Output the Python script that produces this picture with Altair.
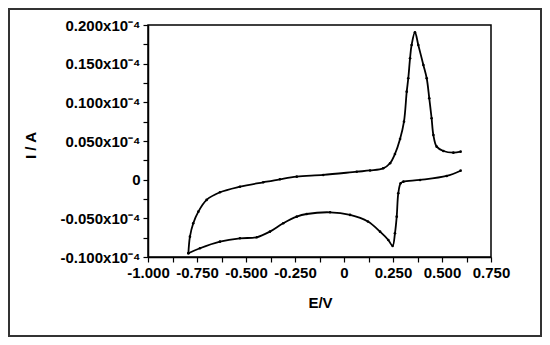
import altair as alt
import pandas as pd

# Forward (anodic) scan, E in V, I in units of 1e-4 A
fwd_E = [-0.794, -0.786, -0.769, -0.743, -0.701, -0.633, -0.531, -0.412, -0.327, -0.241,
         -0.106, 0.065, 0.133, 0.200, 0.235, 0.260, 0.286, 0.306, 0.320, 0.328,
         0.337, 0.345, 0.362, 0.379, 0.405, 0.422, 0.435, 0.447, 0.456, 0.473,
         0.507, 0.558, 0.595]
fwd_I = [-0.0952, -0.0737, -0.0564, -0.0414, -0.0262, -0.0163, -0.0091, -0.0034, 0.0005, 0.0039,
         0.0061, 0.0103, 0.0119, 0.0147, 0.0212, 0.0332, 0.0526, 0.0750, 0.1138, 0.1311,
         0.1570, 0.1742, 0.1906, 0.1742, 0.1483, 0.1311, 0.1053, 0.0794, 0.0578, 0.0427,
         0.0371, 0.0349, 0.0362]

# Reverse (cathodic) scan
rev_E = [0.595, 0.524, 0.388, 0.303, 0.289, 0.277, 0.269, 0.260, 0.248, 0.226,
         0.184, 0.122, 0.031, -0.071, -0.190, -0.241, -0.310, -0.378, -0.445, -0.531,
         -0.633, -0.735, -0.794]
rev_I = [0.0116, 0.0048, -0.0004, -0.0026, -0.0047, -0.0176, -0.0478, -0.0693, -0.0857, -0.0780,
         -0.0672, -0.0541, -0.0456, -0.0422, -0.0444, -0.0478, -0.0564, -0.0672, -0.0745, -0.0758,
         -0.0802, -0.0887, -0.0952]

x_ticks = [-1.0, -0.875, -0.75, -0.625, -0.5, -0.375, -0.25, -0.125, 0.0,
           0.125, 0.25, 0.375, 0.5, 0.625, 0.75]
y_ticks = [-0.1, -0.075, -0.05, -0.025, 0.0, 0.025, 0.05, 0.075, 0.1,
           0.125, 0.15, 0.175, 0.2]

rows = []
for i, (e, c) in enumerate(zip(fwd_E, fwd_I)):
    rows.append({"E": e, "I": c, "branch": "fwd", "k": i})
for i, (e, c) in enumerate(zip(rev_E, rev_I)):
    rows.append({"E": e, "I": c, "branch": "rev", "k": i})
df = pd.DataFrame(rows)

FONT = "Liberation Sans"
W, H = 343, 232

x_lab = ("datum.value == 0 ? '0' : (abs(datum.value*4 - round(datum.value*4)) < 0.01 ? "
         "replace(format(datum.value, '.3f'), '\u2212', '-') : '')")
y_lab = ("datum.value == 0 ? '0' : (abs(datum.value*20 - round(datum.value*20)) < 0.01 ? "
         "replace(format(datum.value, '.3f'), '\u2212', '-') + 'x10\u207b\u2074' : '')")

x_enc = alt.X("E:Q", scale=alt.Scale(domain=[-1.0, 0.75], nice=False, zero=False),
              axis=alt.Axis(values=x_ticks, labelExpr=x_lab, title="E/V",
                            labelFlush=False, labelOverlap=False,
                            titleX=172, titleY=45, titleBaseline="middle",
                            titleAlign="center"))
y_enc = alt.Y("I:Q", scale=alt.Scale(domain=[-0.1, 0.2], nice=False, zero=False),
              axis=alt.Axis(values=y_ticks, labelExpr=y_lab, title="I / A",
                            labelFlush=False, labelOverlap=False,
                            titleX=-118, titleY=120, titleBaseline="middle",
                            titleAlign="center", titleAngle=270))

base = alt.Chart(df).encode(x=x_enc, y=y_enc, detail="branch:N", order="k:Q")
line = base.mark_line(color="black", strokeWidth=1.8, interpolate="catmull-rom")
pts = base.mark_point(color="black", filled=True, size=7, opacity=1)

frame = alt.Chart(pd.DataFrame({"a": [0]})).mark_rect(
    fill=None, stroke="#333333", strokeWidth=2
).encode(x=alt.value(-139), x2=alt.value(393), y=alt.value(-16), y2=alt.value(311))

chart = alt.layer(frame, line, pts).properties(
    width=W, height=H,
    autosize=alt.AutoSizeParams(type="none"),
    padding={"left": 140, "top": 17, "right": 51, "bottom": 80},
    background="white",
).configure_view(
    stroke="black", strokeWidth=1.5
).configure_axis(
    grid=False, domainColor="black", domainWidth=1.5,
    tickColor="black", tickSize=5, tickWidth=1.2,
    labelFont=FONT, labelFontSize=15, labelFontWeight="bold", labelColor="black",
    labelPadding=3,
    titleFont=FONT, titleFontSize=15, titleFontWeight="bold", titleColor="black",
)

chart.save("out.html", embed_options={"renderer": "svg", "actions": False})
